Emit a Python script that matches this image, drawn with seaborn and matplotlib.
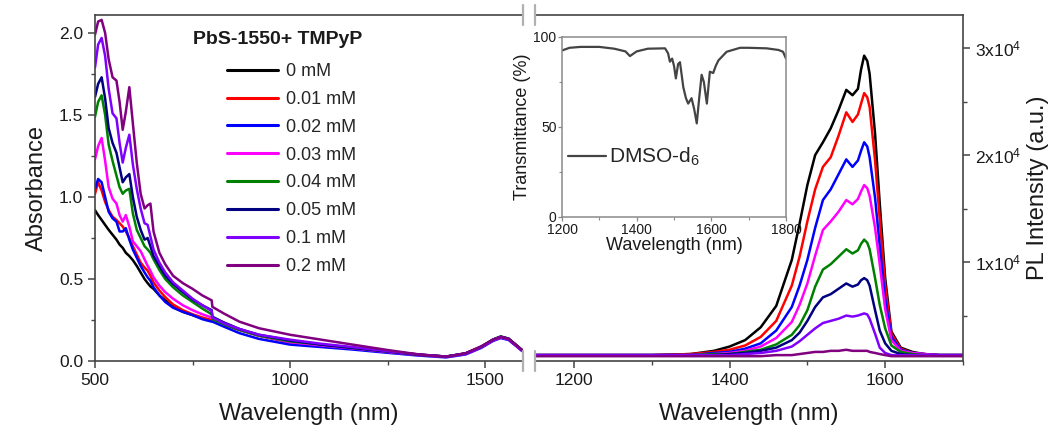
import matplotlib
matplotlib.use("Agg")
import matplotlib.pyplot as plt
from matplotlib.lines import Line2D
from matplotlib.ticker import MultipleLocator, FuncFormatter, FormatStrFormatter
import seaborn as sns
import pandas as pd

# ---------------- data ----------------
conc_labels = ["0 mM", "0.01 mM", "0.02 mM", "0.03 mM", "0.04 mM", "0.05 mM", "0.1 mM", "0.2 mM"]
conc_colors = ["#000000", "#ff0000", "#0000ff", "#ff00ff", "#008000", "#000080", "#8000ff", "#800080"]

# absorbance spectra
abs_nm = [500, 508, 517, 526, 535, 545, 555, 563, 571, 579, 588, 597, 607, 617, 627, 635, 642, 650,
          665, 680, 700, 725, 750, 775, 799, 801, 830, 870, 920, 1000, 1080, 1160, 1250, 1330, 1400,
          1450, 1490, 1520, 1540, 1560, 1580, 1595]
abs_0 = [0.92, 0.89, 0.86, 0.83, 0.80, 0.77, 0.74, 0.71, 0.69, 0.66, 0.64, 0.615, 0.58, 0.54, 0.50, 0.475,
         0.455, 0.44, 0.40, 0.37, 0.33, 0.30, 0.28, 0.26, 0.245, 0.245, 0.225, 0.19, 0.155, 0.115, 0.10,
         0.082, 0.058, 0.039, 0.027, 0.045, 0.085, 0.13, 0.148, 0.135, 0.095, 0.065]
abs_001 = [1.02, 1.09, 1.04, 0.97, 0.92, 0.88, 0.86, 0.84, 0.82, 0.79, 0.75, 0.70, 0.65, 0.60, 0.57, 0.55,
           0.52, 0.48, 0.43, 0.39, 0.345, 0.31, 0.285, 0.265, 0.25, 0.25, 0.225, 0.19, 0.155, 0.115, 0.097,
           0.08, 0.057, 0.038, 0.026, 0.045, 0.085, 0.128, 0.145, 0.133, 0.093, 0.063]
abs_002 = [1.05, 1.11, 1.09, 1.00, 0.91, 0.87, 0.85, 0.79, 0.79, 0.81, 0.74, 0.68, 0.63, 0.58, 0.54, 0.51,
           0.49, 0.45, 0.40, 0.36, 0.325, 0.30, 0.28, 0.255, 0.24, 0.24, 0.21, 0.17, 0.135, 0.10, 0.085,
           0.07, 0.05, 0.033, 0.022, 0.04, 0.08, 0.122, 0.14, 0.128, 0.09, 0.06]
abs_003 = [1.23, 1.31, 1.36, 1.22, 1.06, 0.99, 0.96, 0.89, 0.85, 0.89, 0.82, 0.73, 0.70, 0.67, 0.62, 0.58,
           0.55, 0.51, 0.46, 0.42, 0.38, 0.34, 0.31, 0.285, 0.265, 0.265, 0.235, 0.195, 0.155, 0.115, 0.095,
           0.077, 0.055, 0.036, 0.025, 0.043, 0.083, 0.126, 0.144, 0.132, 0.092, 0.062]
abs_004 = [1.49, 1.58, 1.62, 1.50, 1.32, 1.22, 1.13, 1.06, 1.02, 1.04, 1.05, 0.90, 0.80, 0.75, 0.70, 0.68,
           0.66, 0.62, 0.555, 0.50, 0.45, 0.40, 0.36, 0.32, 0.285, 0.255, 0.225, 0.19, 0.155, 0.12, 0.10,
           0.08, 0.058, 0.038, 0.027, 0.046, 0.087, 0.131, 0.15, 0.137, 0.097, 0.066]
abs_005 = [1.61, 1.69, 1.73, 1.60, 1.42, 1.33, 1.27, 1.18, 1.09, 1.12, 1.14, 1.00, 0.88, 0.80, 0.74, 0.75,
           0.70, 0.64, 0.58, 0.52, 0.47, 0.42, 0.375, 0.34, 0.31, 0.27, 0.235, 0.195, 0.16, 0.125, 0.10,
           0.08, 0.058, 0.038, 0.027, 0.046, 0.086, 0.13, 0.148, 0.136, 0.096, 0.065]
abs_01 = [1.79, 1.93, 1.97, 1.86, 1.66, 1.51, 1.48, 1.33, 1.21, 1.30, 1.38, 1.20, 1.05, 0.93, 0.84, 0.83,
          0.76, 0.68, 0.60, 0.54, 0.48, 0.43, 0.38, 0.34, 0.305, 0.265, 0.23, 0.195, 0.16, 0.13, 0.105,
          0.085, 0.06, 0.04, 0.027, 0.046, 0.086, 0.13, 0.147, 0.135, 0.095, 0.064]
abs_02 = [1.99, 2.07, 2.08, 2.00, 1.84, 1.73, 1.71, 1.58, 1.41, 1.52, 1.67, 1.45, 1.21, 1.02, 0.93, 0.95,
          0.96, 0.79, 0.66, 0.59, 0.52, 0.475, 0.44, 0.40, 0.37, 0.33, 0.29, 0.24, 0.20, 0.16, 0.13,
          0.10, 0.067, 0.04, 0.026, 0.048, 0.09, 0.13, 0.146, 0.135, 0.095, 0.066]
abs_series = [abs_0, abs_001, abs_002, abs_003, abs_004, abs_005, abs_01, abs_02]

# photoluminescence spectra (units of 1e4 counts)
pl_nm = [1150, 1200, 1250, 1300, 1350, 1380, 1400, 1420, 1440, 1460, 1480, 1490, 1500, 1510, 1520, 1530,
         1540, 1550, 1558, 1565, 1569, 1573, 1577, 1580, 1587, 1593, 1600, 1608, 1620, 1635, 1650, 1670,
         1700]
pl_0 = [0.13, 0.13, 0.13, 0.13, 0.14, 0.17, 0.21, 0.27, 0.39, 0.59, 1.02, 1.36, 1.72, 2.00, 2.12, 2.25,
        2.42, 2.61, 2.56, 2.62, 2.80, 2.93, 2.88, 2.76, 2.20, 1.55, 0.85, 0.35, 0.20, 0.16, 0.14, 0.13, 0.13]
pl_001 = [0.13, 0.13, 0.13, 0.13, 0.14, 0.16, 0.18, 0.22, 0.30, 0.45, 0.78, 1.05, 1.38, 1.68, 1.89, 1.98,
          2.18, 2.40, 2.31, 2.38, 2.48, 2.58, 2.54, 2.45, 1.95, 1.40, 0.78, 0.33, 0.19, 0.15, 0.14, 0.13,
          0.13]
pl_002 = [0.13, 0.13, 0.13, 0.13, 0.13, 0.15, 0.16, 0.19, 0.24, 0.36, 0.58, 0.78, 1.02, 1.32, 1.58, 1.68,
          1.82, 1.96, 1.89, 1.95, 2.04, 2.12, 2.08, 1.98, 1.60, 1.15, 0.66, 0.30, 0.18, 0.15, 0.14, 0.13,
          0.13]
pl_003 = [0.13, 0.13, 0.13, 0.13, 0.13, 0.14, 0.15, 0.17, 0.21, 0.29, 0.44, 0.60, 0.80, 1.06, 1.30, 1.38,
          1.47, 1.58, 1.54, 1.59, 1.66, 1.72, 1.69, 1.62, 1.32, 0.98, 0.56, 0.27, 0.17, 0.15, 0.14, 0.13,
          0.13]
pl_004 = [0.13, 0.13, 0.13, 0.13, 0.13, 0.14, 0.14, 0.16, 0.18, 0.23, 0.32, 0.41, 0.55, 0.77, 0.93, 0.98,
          1.05, 1.12, 1.08, 1.11, 1.17, 1.21, 1.18, 1.12, 0.85, 0.60, 0.38, 0.22, 0.16, 0.14, 0.13, 0.13,
          0.13]
pl_005 = [0.13, 0.13, 0.13, 0.13, 0.13, 0.13, 0.14, 0.15, 0.17, 0.20, 0.27, 0.34, 0.45, 0.58, 0.67, 0.70,
          0.75, 0.80, 0.77, 0.79, 0.83, 0.85, 0.83, 0.78, 0.55, 0.36, 0.24, 0.17, 0.14, 0.13, 0.13, 0.13,
          0.13]
pl_01 = [0.13, 0.13, 0.13, 0.13, 0.13, 0.13, 0.13, 0.14, 0.15, 0.17, 0.21, 0.26, 0.32, 0.38, 0.43, 0.45,
         0.47, 0.50, 0.49, 0.50, 0.51, 0.52, 0.51, 0.47, 0.33, 0.20, 0.15, 0.13, 0.13, 0.13, 0.13, 0.13,
         0.13]
pl_02 = [0.12, 0.12, 0.12, 0.12, 0.12, 0.12, 0.12, 0.12, 0.12, 0.13, 0.13, 0.14, 0.15, 0.16, 0.16, 0.17,
         0.17, 0.18, 0.17, 0.17, 0.17, 0.17, 0.17, 0.16, 0.15, 0.14, 0.13, 0.12, 0.12, 0.12, 0.12, 0.12,
         0.12]
pl_series = [pl_0, pl_001, pl_002, pl_003, pl_004, pl_005, pl_01, pl_02]

# DMSO-d6 transmittance
tr_nm = [1200, 1220, 1250, 1300, 1340, 1370, 1382, 1400, 1430, 1476, 1484, 1489, 1495, 1500, 1505, 1511,
         1516, 1525, 1532, 1538, 1547, 1554, 1561, 1567, 1574, 1580, 1588, 1596, 1605, 1612, 1619, 1641,
         1677, 1700, 1748, 1780, 1792, 1800]
tr_pct = [92.5, 94, 94.5, 94.5, 93.5, 92, 89.4, 92, 93.5, 93.7, 91, 86.3, 88, 84, 77, 85, 86, 72, 66, 63,
          66, 60, 52, 65, 79, 75, 63, 80.7, 80, 84, 87, 91.8, 94, 94, 93.7, 92.8, 91.8, 88]

# ---------------- tables ----------------
abs_df = pd.DataFrame([
    {"nm": x, "A": y, "conc": lab}
    for lab, ys in zip(conc_labels, abs_series) for x, y in zip(abs_nm, ys)
])
pl_df = pd.DataFrame([
    {"nm": x, "I": y * 1e4, "conc": lab}
    for lab, ys in zip(conc_labels, pl_series) for x, y in zip(pl_nm, ys)
])
tr_df = pd.DataFrame({"nm": tr_nm, "T": tr_pct})

# ---------------- style ----------------
sns.set_theme(style="ticks")
plt.rcParams["font.family"] = ["Liberation Sans", "DejaVu Sans"]
plt.rcParams["mathtext.default"] = "regular"
frame_col = "#444444"
txt_col = "#1a1a1a"
palette = dict(zip(conc_labels, conc_colors))

W, H = 1050, 432
fig = plt.figure(figsize=(W / 100, H / 100), dpi=100)


def px_rect(x0, y0, x1, y1):
    return [x0 / W, 1 - y1 / H, (x1 - x0) / W, (y1 - y0) / H]


ax1 = fig.add_axes(px_rect(95, 15, 523, 361))
ax2 = fig.add_axes(px_rect(535, 15, 963, 361))

# absorbance panel
sns.lineplot(data=abs_df, x="nm", y="A", hue="conc", hue_order=conc_labels, palette=palette,
             linewidth=1.8, errorbar=None, ax=ax1)
ax1.set_xlim(500, 1597)
ax1.set_ylim(0, 2.11)
ax1.xaxis.set_major_locator(MultipleLocator(500))
ax1.xaxis.set_minor_locator(MultipleLocator(250))
ax1.yaxis.set_major_locator(MultipleLocator(0.5))
ax1.yaxis.set_minor_locator(MultipleLocator(0.25))
ax1.yaxis.set_major_formatter(FormatStrFormatter("%.1f"))
ax1.spines["right"].set_visible(False)
ax1.set_xlabel("Wavelength (nm)", fontsize=17, color=txt_col, labelpad=11)
ax1.set_ylabel("Absorbance", fontsize=17, color=txt_col, labelpad=8)

handles, labels = ax1.get_legend_handles_labels()
ax1.legend(handles, labels, loc="upper left", bbox_to_anchor=((227 - 95) / 428, (361 - 63) / 346),
           frameon=False, fontsize=13, handlelength=2.85, handletextpad=0.4, labelspacing=0.6,
           borderpad=0, borderaxespad=0)
for ln in ax1.get_legend().get_lines():
    ln.set_linewidth(2.2)
fig.text(193 / W, 1 - 40 / H, "PbS-1550+ TMPyP", fontsize=14, fontweight="bold",
         ha="left", va="center", color=txt_col)

# PL panel
sns.lineplot(data=pl_df, x="nm", y="I", hue="conc", hue_order=conc_labels, palette=palette,
             linewidth=1.8, errorbar=None, legend=False, ax=ax2)
ax2.set_xlim(1150, 1700)
ax2.set_ylim(750, 33100)
ax2.xaxis.set_major_locator(MultipleLocator(200))
ax2.xaxis.set_minor_locator(MultipleLocator(100))
ax2.yaxis.set_major_locator(MultipleLocator(1e4))
ax2.yaxis.set_minor_locator(MultipleLocator(5e3))
ax2.yaxis.set_major_formatter(FuncFormatter(lambda v, p: f"{int(round(v / 1e4))}x10$^4$"))
ax2.spines["left"].set_visible(False)
ax2.yaxis.tick_right()
ax2.yaxis.set_label_position("right")
ax2.set_xlabel("Wavelength (nm)", fontsize=17, color=txt_col, labelpad=11)
ax2.set_ylabel("PL Intensity (a.u.)", fontsize=17, color=txt_col, labelpad=4)

for ax in (ax1, ax2):
    for s in ax.spines.values():
        s.set_color(frame_col)
        s.set_linewidth(1.2)
    ax.tick_params(which="major", direction="out", length=5, width=1.1, color=frame_col,
                   labelsize=12.5, labelcolor=txt_col)
    ax.tick_params(which="minor", direction="out", length=3, width=1.0, color=frame_col)
    ax.tick_params(top=False, which="both")
ax1.tick_params(right=False, which="both")
ax2.tick_params(left=False, which="both")

# axis break marks
for xb in (523, 535):
    for y0, y1 in ((5, 25), (351, 371)):
        fig.add_artist(Line2D([xb / W, xb / W], [1 - y0 / H, 1 - y1 / H], color="#b0b0b0",
                              linewidth=1.6, transform=fig.transFigure))

# inset: solvent transmittance
axin = fig.add_axes(px_rect(562, 37, 786, 217))
sns.lineplot(data=tr_df, x="nm", y="T", color="#444444", linewidth=1.6, ax=axin, label="DMSO-d$_6$")
axin.set_xlim(1200, 1800)
axin.set_ylim(0, 100)
axin.xaxis.set_major_locator(MultipleLocator(200))
axin.xaxis.set_minor_locator(MultipleLocator(100))
axin.yaxis.set_major_locator(MultipleLocator(50))
axin.yaxis.set_minor_locator(MultipleLocator(25))
for s in axin.spines.values():
    s.set_color("#8a8a8a")
    s.set_linewidth(1.1)
axin.tick_params(which="major", direction="out", length=3, width=0.9, color="#8a8a8a",
                 labelsize=10, labelcolor=txt_col, pad=1)
axin.tick_params(which="minor", direction="out", length=2, width=0.8, color="#8a8a8a")
axin.set_xlabel("Wavelength (nm)", fontsize=13, color=txt_col, labelpad=0)
axin.set_ylabel("Transmittance (%)", fontsize=13, color=txt_col, labelpad=2)
axin.legend(loc="center left", bbox_to_anchor=(0.0, 0.333), frameon=False, fontsize=15,
            handlelength=1.8, handletextpad=0.15, borderpad=0.1, borderaxespad=0.2)

fig.savefig("out.png", dpi=100)
